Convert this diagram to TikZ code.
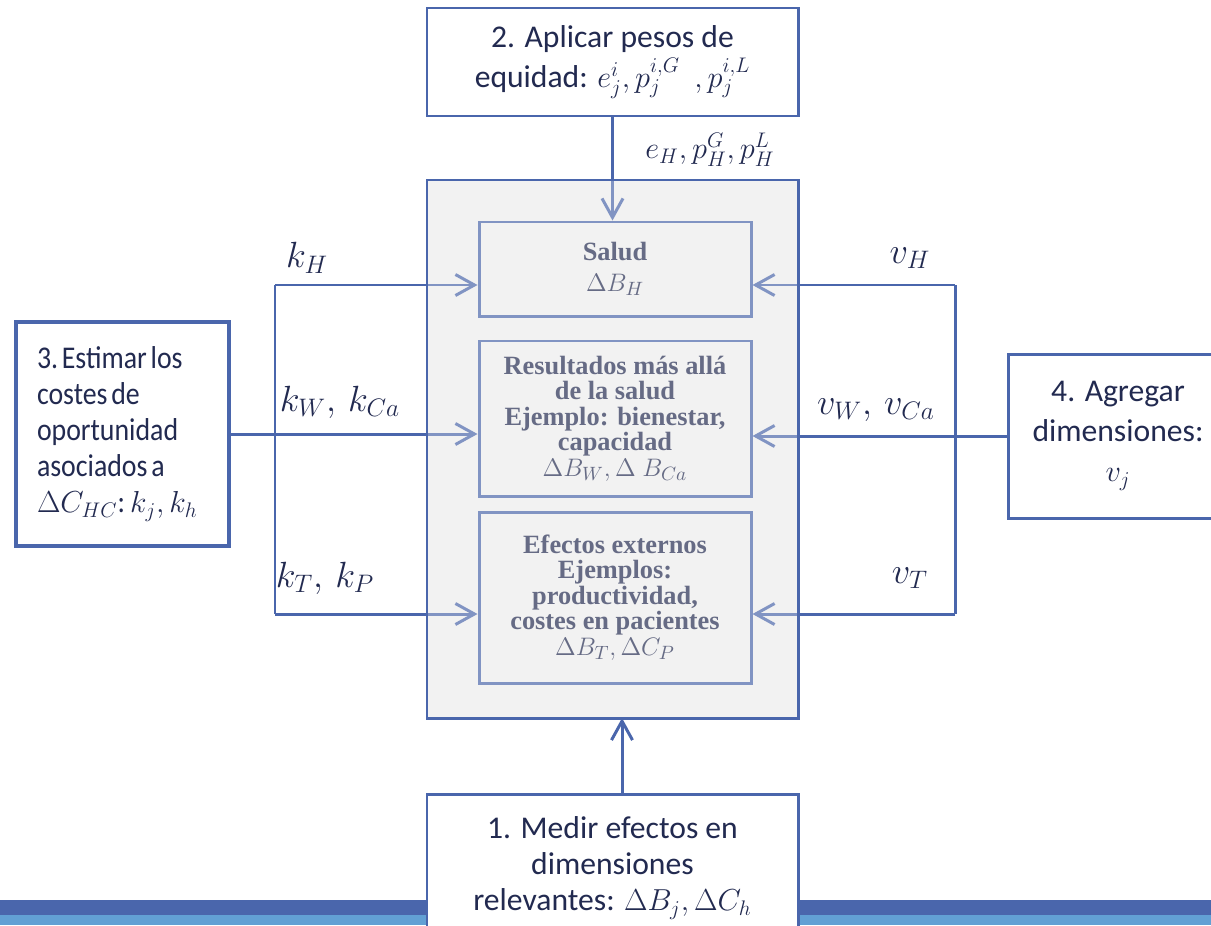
\documentclass[tikz,border=0pt]{standalone}
\usepackage{fontspec}
\setmainfont{Carlito}
\newfontfamily\condfont{Carlito}[FakeStretch=0.88]
\newfontfamily\serifbf{Liberation Serif}
\usetikzlibrary{arrows.meta}
\definecolor{azul}{HTML}{4A66AC}
\definecolor{azulclaro}{HTML}{62A0D4}
\definecolor{tinta}{HTML}{222A50}
\definecolor{gris}{HTML}{F2F2F2}

\begin{document}
\begin{tikzpicture}[
  paso/.style={draw=azul,line width=1.7pt,fill=white,text=tinta,align=center,font=\fontsize{18}{22.7}\selectfont},
  dim/.style={draw=azul,line width=1.7pt,text=tinta,align=center,minimum width=5.44cm,font=\fontsize{15}{14.5}\selectfont\serifbf\bfseries},
  flecha/.style={azul,line width=1.7pt,-{Straight Barb[length=3.8mm,width=4.2mm]}},
  linea/.style={azul,line width=1.7pt},
  etiq/.style={text=tinta,font=\fontsize{20}{24}\selectfont}]
\useasboundingbox (0,0) rectangle (24.22,-18.5);

% barras de abajo
\fill[azul] (0,-18.0) rectangle (24.22,-18.3);
\fill[azulclaro] (0,-18.3) rectangle (24.22,-18.5);

% caja gris
\coordinate (g1) at (8.54,-3.6);
\coordinate (g2) at (15.96,-14.36);
\fill[gris] (g1) rectangle (g2);

\node[dim,minimum height=1.88cm] (salud) at (12.3,-5.38) {Salud\\[3pt]$\Delta B_H$};
\node[dim,minimum height=3.1cm] (result) at (12.3,-8.37) {Resultados más allá\\de la salud\\Ejemplo: bienestar,\\capacidad\\$\Delta B_W, \Delta\ B_{Ca}$};
\node[dim,minimum height=3.42cm] (efectos) at (12.3,-11.95) {Efectos externos\\Ejemplos:\\productividad,\\costes en pacientes\\$\Delta B_T, \Delta C_P$};

% pasos
\node[paso,minimum width=7.42cm,minimum height=2.16cm] (aplicar) at (12.25,-1.24) {2. Aplicar pesos de\\equidad: $e_j^i, p_j^{i,G}\ \ , p_j^{i,L}$};
\node[paso,line width=2.4pt,minimum height=4.48cm,text width=3.42cm,inner xsep=0.42cm,align=left,font=\condfont\fontsize{18}{20.5}\selectfont] (estimar) at (2.45,-8.68) {\spaceskip=0.12em\xspaceskip=0.12em\relax 3. Estimar los\\costes de\\oportunidad\\asociados a\\$\Delta C_{HC}$:$\,k_j, k_h$};
\node[paso,minimum width=4.4cm,minimum height=3.28cm] (agregar) at (22.36,-8.72) {4. Agregar\\dimensiones:\\$v_j$};
\node[paso,minimum width=7.42cm,minimum height=2.94cm,anchor=north,font=\fontsize{18}{20.5}\selectfont] (medir) at (12.25,-15.86) {1. Medir efectos en\\dimensiones\\relevantes: $\Delta B_j, \Delta C_h$};

% conectores
\coordinate (ka) at (5.5,-5.7);
\coordinate (kb) at (5.5,-12.28);
\coordinate (va) at (19.1,-5.7);
\coordinate (vb) at (19.1,-12.28);
\draw[linea] (ka) -- (kb);
\draw[flecha] (ka) -- (ka -| salud.west);
\draw[flecha] (estimar.east) -- (estimar.east -| result.west);
\draw[flecha] (kb) -- (kb -| efectos.west);
\draw[linea] (va) -- (vb);
\draw[flecha] (va) -- (va -| salud.east);
\draw[flecha] (agregar.west) -- (agregar.west -| result.east);
\draw[flecha] (vb) -- (vb -| efectos.east);
\draw[flecha] (aplicar.south) -- (aplicar.south |- salud.north);
\draw[flecha] ([xshift=0.19cm]medir.north) -- ([xshift=0.19cm]medir.north |- g2);

% velo sobre la caja gris
\draw[azul,line width=1.7pt,fill=gris,fill opacity=0.33] (g1) rectangle (g2);

% etiquetas
\node[etiq] (kh) at (6.14,-5.16) {$k_H$};
\node[etiq] (kw) at (6.8,-8.04) {$k_W,\, k_{Ca}$};
\node[etiq] (kt) at (6.5,-11.56) {$k_T,\, k_P$};
\node[etiq] (vh) at (18.2,-5.16) {$v_H$};
\node[etiq] (vw) at (17.52,-8.2) {$v_W,\, v_{Ca}$};
\node[etiq] (vt) at (18.2,-11.56) {$v_T$};
\node[etiq,font=\fontsize{18}{22}\selectfont] (eh) at (14.2,-3.0) {$e_H, p_H^G, p_H^L$};
\end{tikzpicture}
\end{document}
